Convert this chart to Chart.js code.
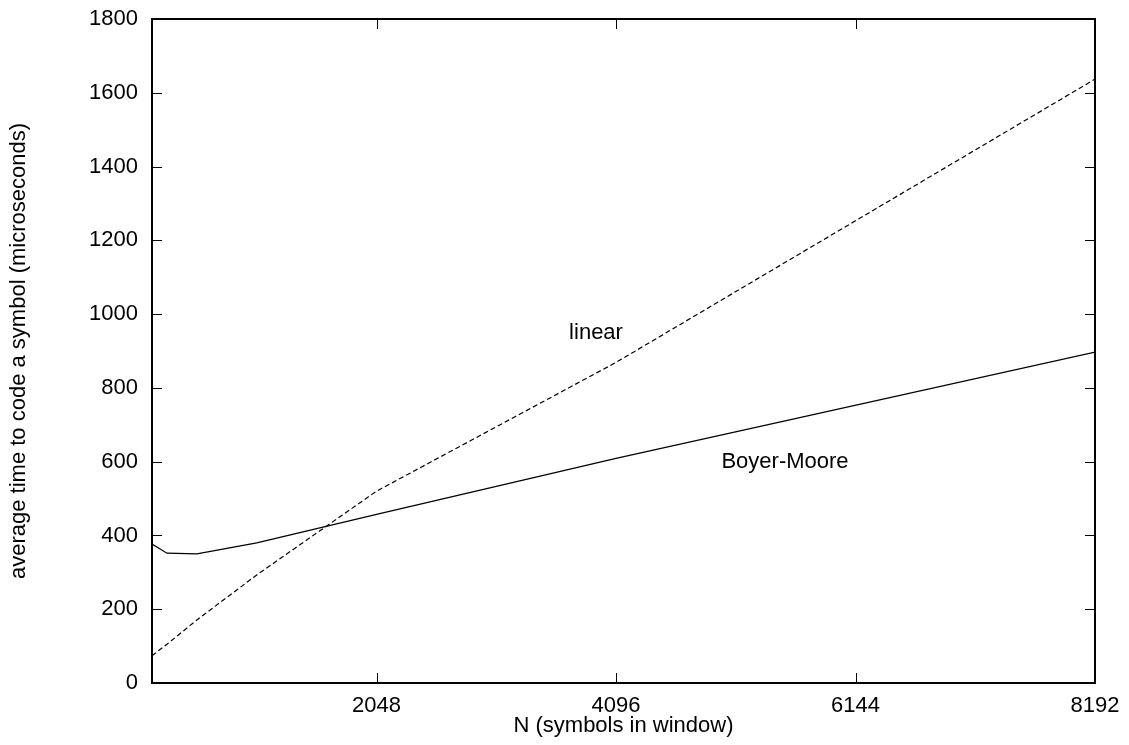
<!DOCTYPE html>
<html>
<head>
<meta charset="utf-8">
<script src="https://cdn.jsdelivr.net/npm/chart.js@4/dist/chart.umd.min.js"></script>
<style>
  html, body { margin: 0; padding: 0; background: #fff; }
  #wrap { width: 1129px; height: 745px; position: relative; }
</style>
</head>
<body>
<div id="wrap"><canvas id="c" width="1129" height="745"></canvas></div>
<script>
// Window sizes N (symbols in window)
const windowSizes = [128, 256, 512, 1024, 2048, 4096, 8192];
// Average time to code a symbol (microseconds)
const linearTimes = [74, 105, 171, 293, 520, 869, 1637];
const boyerMooreTimes = [377, 352, 350, 380, 457, 609, 897];

const xTickValues = [2048, 4096, 6144, 8192];
const yTickValues = [0, 200, 400, 600, 800, 1000, 1200, 1400, 1600, 1800];

// Curve labels placed in data coordinates
const curveLabels = ['linear', 'Boyer-Moore'];
const curveLabelN = [3925, 5541];
const curveLabelT = [949, 600];

const FONT = '"Liberation Sans", Arial, Helvetica, sans-serif';

function toPoints(xs, ys) {
  return xs.map((x, i) => ({ x: x, y: ys[i] }));
}

// Frame with inward tick marks on all four sides, plus curve labels
const framePlugin = {
  id: 'frame',
  afterDatasetsDraw(chart) {
    const { ctx, chartArea: a, scales } = chart;
    const tl = 10;
    ctx.save();
    ctx.strokeStyle = '#000';
    ctx.lineWidth = 1;
    ctx.beginPath();
    yTickValues.forEach(v => {
      const y = Math.round(scales.y.getPixelForValue(v)) + 0.5;
      ctx.moveTo(a.left, y); ctx.lineTo(a.left + tl, y);
      ctx.moveTo(a.right, y); ctx.lineTo(a.right - tl, y);
    });
    xTickValues.forEach(v => {
      const x = Math.round(scales.x.getPixelForValue(v)) + 0.5;
      ctx.moveTo(x, a.bottom); ctx.lineTo(x, a.bottom - tl);
      ctx.moveTo(x, a.top); ctx.lineTo(x, a.top + tl);
    });
    ctx.stroke();
    ctx.lineWidth = 2;
    ctx.strokeRect(a.left, a.top, a.right - a.left, a.bottom - a.top);

    ctx.fillStyle = '#000';
    ctx.font = '22px ' + FONT;
    ctx.textAlign = 'center';
    ctx.textBaseline = 'middle';
    curveLabels.forEach((t, i) => {
      ctx.fillText(t, scales.x.getPixelForValue(curveLabelN[i]), scales.y.getPixelForValue(curveLabelT[i]));
    });
    ctx.restore();
  }
};

new Chart(document.getElementById('c'), {
  type: 'scatter',
  data: {
    datasets: [
      {
        label: 'linear',
        data: toPoints(windowSizes, linearTimes),
        showLine: true,
        borderColor: '#000',
        borderWidth: 1.2,
        borderDash: [5, 3],
        pointRadius: 0,
        fill: false
      },
      {
        label: 'Boyer-Moore',
        data: toPoints(windowSizes, boyerMooreTimes),
        showLine: true,
        borderColor: '#000',
        borderWidth: 1.2,
        pointRadius: 0,
        fill: false
      }
    ]
  },
  options: {
    responsive: false,
    animation: false,
    events: [],
    layout: { padding: { left: 0, right: 34, top: 19, bottom: 0 } },
    plugins: { legend: { display: false }, tooltip: { enabled: false } },
    scales: {
      x: {
        type: 'linear',
        min: 128,
        max: 8192,
        grid: { display: false, drawTicks: false },
        border: { display: false },
        afterBuildTicks(scale) { scale.ticks = xTickValues.map(v => ({ value: v })); },
        afterFit(scale) {
          scale.height = 62;
          scale.paddingLeft = 0;
          scale.paddingRight = 0;
        },
        ticks: {
          color: '#000',
          font: { family: FONT, size: 22 },
          padding: 10,
          maxRotation: 0,
          autoSkip: false,
          callback: v => String(v)
        },
        title: {
          display: true,
          text: 'N (symbols in window)',
          color: '#000',
          font: { family: FONT, size: 22 },
          padding: { top: 0, bottom: 6 }
        }
      },
      y: {
        type: 'linear',
        min: 0,
        max: 1800,
        grid: { display: false, drawTicks: false },
        border: { display: false },
        afterBuildTicks(scale) { scale.ticks = yTickValues.map(v => ({ value: v })); },
        afterFit(scale) {
          scale.width = 152;
          scale.paddingTop = 0;
          scale.paddingBottom = 0;
        },
        ticks: {
          color: '#000',
          font: { family: FONT, size: 22 },
          padding: 14,
          autoSkip: false,
          callback: v => String(v)
        },
        title: {
          display: true,
          text: 'average time to code a symbol (microseconds)',
          color: '#000',
          font: { family: FONT, size: 22 },
          padding: { top: 6, bottom: 0 }
        }
      }
    }
  },
  plugins: [framePlugin]
});
</script>
</body>
</html>
